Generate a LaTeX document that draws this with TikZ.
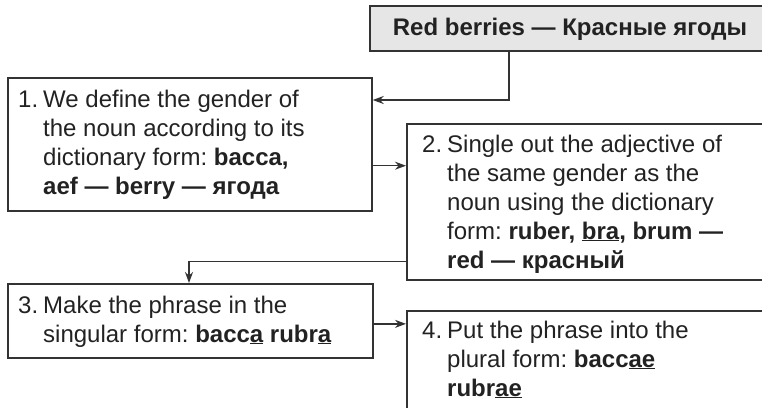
\documentclass[tikz,border=0pt]{standalone}
\usepackage{fontspec}
\setmainfont{Liberation Sans}
\usetikzlibrary{arrows.meta}
\frenchspacing
\definecolor{linec}{HTML}{333333}
\definecolor{titlefill}{HTML}{E6E6E6}
\definecolor{textc}{HTML}{222222}
\tikzset{
  box/.style={draw=linec, line width=1.7bp, anchor=north west, inner sep=0pt, rectangle},
  arr/.style={draw=linec, line width=1.4bp, -{Stealth[length=11bp,width=8bp]}},
  lbl/.style={anchor=base west, inner sep=0pt, text=textc, font=\fontsize{24bp}{29bp}\selectfont},
}
\newcommand{\numline}[3]{\makebox[#1][l]{#2}\parbox[t]{340bp}{\raggedright #3}}
\begin{document}
\begin{tikzpicture}[x=1bp,y=-1bp]
\clip (0,0) rectangle (762,407);
\fill[white] (0,0) rectangle (762,407);
% boxes
\node[box, fill=titlefill, minimum width=420bp, minimum height=45bp] (t) at (369,5) {};
\node[box, minimum width=364bp, minimum height=133bp] (b1) at (7,77) {};
\node[box, minimum width=400bp, minimum height=156bp] (b2) at (406,123) {};
\node[box, minimum width=365bp, minimum height=74bp] (b3) at (7,283) {};
\node[box, minimum width=400bp, minimum height=140bp] (b4) at (406,310) {};
% texts
\node[lbl, anchor=base] (tt) at (570,35) {\textbf{Red berries — Красные ягоды}};
\node[lbl] (l1) at (18,107) {\numline{25bp}{1.}{We define the gender of\\the noun according to its\\dictionary form: \textbf{bacca,}\\\textbf{aef — berry — ягода}}};
\node[lbl] (l2) at (422,152) {\numline{25bp}{2.}{Single out the adjective of\\the same gender as the\\noun using the dictionary\\form: \textbf{ruber, \underline{bra}, brum —}\\\textbf{red — красный}}};
\node[lbl] (l3) at (18,313) {\numline{25bp}{3.}{Make the phrase in the\\singular form: \textbf{bacc\underline{a} rubr\underline{a}}}};
\node[lbl] (l4) at (422,338) {\numline{25bp}{4.}{Put the phrase into the\\plural form: \textbf{bacc\underline{ae}}\\\textbf{rubr\underline{ae}}}};
% connectors
\draw[arr] ([xshift=140bp]t.south west) |- ([yshift=-23bp]b1.north east);
\draw[arr] ([yshift=46bp]b1.south east) -- ([yshift=46bp]b1.south east -| b2.west);
\draw[arr] ([yshift=19bp]b2.south west) -| ([xshift=182bp]b3.north west);
\draw[arr] ([yshift=-3bp]b3.east) -- ([yshift=-3bp]b3.east -| b4.west);
\end{tikzpicture}
\end{document}
